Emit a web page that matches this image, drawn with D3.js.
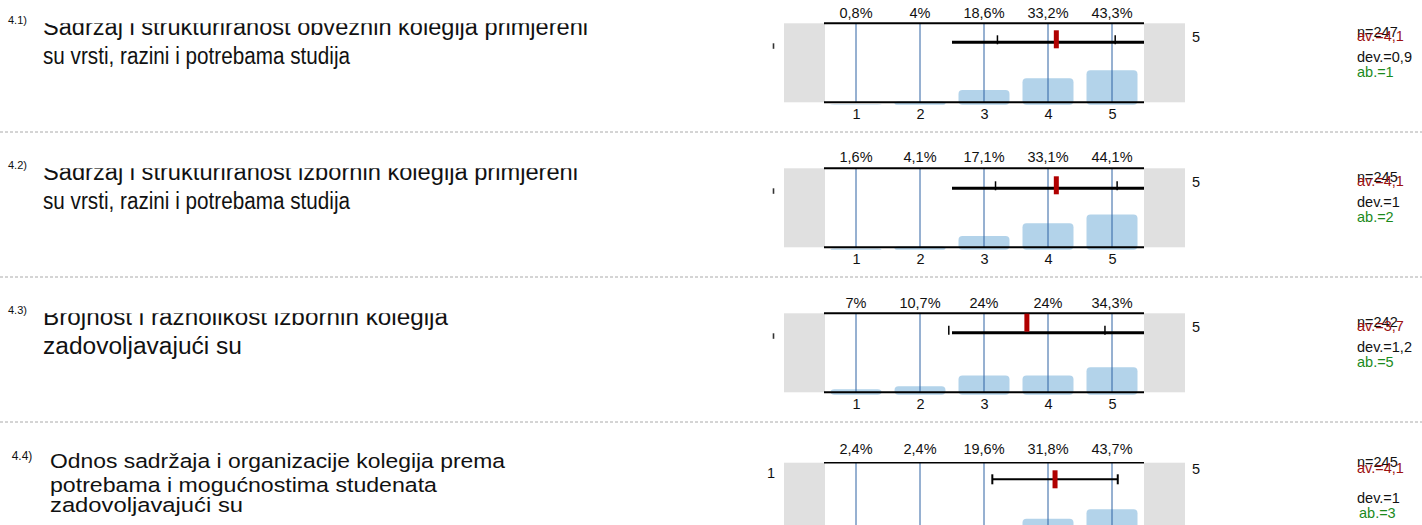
<!DOCTYPE html>
<html>
<head>
<meta charset="utf-8">
<script src="https://cdn.jsdelivr.net/npm/d3@7"></script>
<style>
body { margin: 0; background: #fff; }
svg { display: block; font-family: "Liberation Sans", Arial, sans-serif; }
</style>
</head>
<body>
<svg id="chart" width="1422" height="525"></svg>
<script>
// answer categories (scale 1-5)
var categories = [1, 2, 3, 4, 5];

var questionNums = ["4.1)", "4.2)", "4.3)", "4.4)"];
var questionLines = [
  ["Sadržaj i strukturiranost obveznih kolegija primjereni", "su vrsti, razini i potrebama studija"],
  ["Sadržaj i strukturiranost izbornih kolegija primjereni", "su vrsti, razini i potrebama studija"],
  ["Brojnost i raznolikost izbornih kolegija", "zadovoljavajući su"],
  ["Odnos sadržaja i organizacije kolegija prema", "potrebama i mogućnostima studenata", "zadovoljavajući su"]
];

// percent of answers per category
var pct41 = [0.8, 4, 18.6, 33.2, 43.3];
var pct42 = [1.6, 4.1, 17.1, 33.1, 44.1];
var pct43 = [7, 10.7, 24, 24, 34.3];
var pct44 = [2.4, 2.4, 19.6, 31.8, 43.7];
var pctLabels = [
  ["0,8%", "4%", "18,6%", "33,2%", "43,3%"],
  ["1,6%", "4,1%", "17,1%", "33,1%", "44,1%"],
  ["7%", "10,7%", "24%", "24%", "34,3%"],
  ["2,4%", "2,4%", "19,6%", "31,8%", "43,7%"]
];

// summary stats
var nVals = [247, 245, 242, 245];
var means = [4.13, 4.13, 3.67, 4.11];
var devs = [0.92, 0.95, 1.22, 0.98];
var avLabels = ["4,1", "4,1", "3,7", "4,1"];
var devLabels = ["0,9", "1", "1,2", "1"];
var abVals = [1, 2, 5, 3];
var leftPole = ["", "", "", "1"];
var rightPole = ["5", "5", "5", "5"];
// range of the long bar line (blocks 1-3), null = plain whisker
var bandRange = [[2.5, 5.5], [2.5, 5.5], [2.5, 5.5], null];

var pcts = [pct41, pct42, pct43, pct44];

// layout
var tops = [23.3, 168.3, 313.3, 462.7];
var plotH = 79;
var pctGap = [5, 6.5, 5, 8.4];
var lineOff = [19, 20, 19.4, 16.6];
var markShift = [-3, -3, -10, 0];
var separators = [132, 277, 422];
var fs = 14.5;

var svg = d3.select("#chart");
svg.append("rect").attr("width", 1422).attr("height", 525).attr("fill", "#fff");

var x = d3.scaleLinear().domain([0.5, 5.5]).range([824, 1144]);

// dashed separators
svg.selectAll(".sep")
  .data(separators)
  .enter()
  .append("line")
  .attr("x1", 0).attr("x2", 1422)
  .attr("y1", function (d) { return d }).attr("y2", function (d) { return d })
  .attr("stroke", "#aaa")
  .attr("stroke-dasharray", "3,2")

pcts.forEach(function (pct, b) {
  var top = tops[b];
  var bottom = top + plotH;
  var g = svg.append("g");
  var y = d3.scaleLinear().domain([0, 100]).range([bottom + 2.5, bottom - 77.5]);

  // question text
  var last = b == 3;
  g.append("text")
    .attr("x", last ? 11.7 : 8)
    .attr("y", last ? 460 : top + 0.5)
    .attr("font-size", last ? 12 : 11)
    .attr("fill", "#111")
    .text(questionNums[b]);

  var clipId = "clip" + b;
  svg.append("clipPath").attr("id", clipId)
    .append("rect").attr("x", 0).attr("y", last ? 0 : top).attr("width", 760).attr("height", 525);

  var tg = g.append("g").attr("clip-path", "url(#" + clipId + ")");
  var lineY = last ? [468.3, 491.5, 512] : [top + 12, top + 40.5];
  var txX = last ? 50 : 43;
  var txW = [[545, 307], [535, 307], [405, 199], [455, 387, 193]];
  tg.selectAll("text")
    .data(questionLines[b])
    .enter()
    .append("text")
    .attr("x", txX)
    .attr("y", function (d, i) { return lineY[i] })
    .attr("font-size", last ? 20.5 : 23.5)
    .attr("fill", "#111")
    .attr("textLength", function (d, i) { return txW[b][i] })
    .attr("lengthAdjust", "spacingAndGlyphs")
    .text(function (d) { return d });

  // grey pole boxes
  g.append("rect").attr("x", 784).attr("y", top).attr("width", 41).attr("height", plotH).attr("fill", "#e0e0e0");
  g.append("rect").attr("x", 1144).attr("y", top).attr("width", 41).attr("height", plotH).attr("fill", "#e0e0e0");

  // bars
  g.selectAll(".bar")
    .data(categories)
    .enter()
    .append("rect")
    .attr("x", function (d) { return x(d) - 25.5 })
    .attr("y", function (d, i) { return y(pct[i]) })
    .attr("width", 51)
    .attr("height", function (d, i) { return y(0) - y(pct[i]) })
    .attr("rx", 4).attr("ry", 4)
    .attr("fill", "#b3d3ea");

  // grid lines
  g.selectAll(".grid")
    .data(categories)
    .enter()
    .append("line")
    .attr("x1", function (d) { return x(d) }).attr("x2", function (d) { return x(d) })
    .attr("y1", top).attr("y2", bottom)
    .attr("stroke", "#2f62a3").attr("stroke-width", 1);

  // frame lines
  g.append("line").attr("x1", x(0.5)).attr("x2", x(5.5)).attr("y1", top).attr("y2", top)
    .attr("stroke", "#000").attr("stroke-width", last ? 1.5 : 2);
  g.append("line").attr("x1", x(0.5)).attr("x2", x(5.5)).attr("y1", bottom).attr("y2", bottom)
    .attr("stroke", "#000").attr("stroke-width", 2);

  // percent labels
  g.selectAll(".pct")
    .data(categories)
    .enter()
    .append("text")
    .attr("x", function (d) { return x(d) })
    .attr("y", top - pctGap[b])
    .attr("text-anchor", "middle")
    .attr("font-size", fs)
    .attr("fill", "#111")
    .text(function (d, i) { return pctLabels[b][i] });

  // category axis
  var axis = d3.axisBottom(x).tickValues(categories).tickFormat(d3.format("d")).tickSize(0).tickPadding(6);
  var ag = g.append("g").attr("transform", "translate(0," + bottom + ")").call(axis);
  ag.select(".domain").remove();
  ag.selectAll("text").attr("font-size", fs).attr("fill", "#111").attr("font-family", "Liberation Sans, Arial, sans-serif");

  // mean / deviation
  var ly = top + lineOff[b];
  var lo = means[b] - devs[b], hi = means[b] + devs[b];
  if (bandRange[b]) {
    g.append("line").attr("x1", x(bandRange[b][0])).attr("x2", x(bandRange[b][1]))
      .attr("y1", ly).attr("y2", ly).attr("stroke", "#000").attr("stroke-width", 3);
    g.selectAll(".dtick")
      .data([lo, hi])
      .enter()
      .append("line")
      .attr("x1", function (d) { return x(d) }).attr("x2", function (d) { return x(d) })
      .attr("y1", ly - 7).attr("y2", ly + 2)
      .attr("stroke", "#000").attr("stroke-width", 1.5);
  } else {
    g.append("line").attr("x1", x(lo)).attr("x2", x(hi))
      .attr("y1", ly).attr("y2", ly).attr("stroke", "#000").attr("stroke-width", 2);
    g.selectAll(".dtick")
      .data([lo, hi])
      .enter()
      .append("line")
      .attr("x1", function (d) { return x(d) }).attr("x2", function (d) { return x(d) })
      .attr("y1", ly - 5).attr("y2", ly + 5)
      .attr("stroke", "#000").attr("stroke-width", 2);
  }
  g.append("rect")
    .attr("x", x(means[b]) - 2.5)
    .attr("y", ly + markShift[b] - 9)
    .attr("width", 5).attr("height", 18)
    .attr("fill", "#b00000");

  // pole labels
  if (leftPole[b]) {
    g.append("text").attr("x", 775).attr("y", top + 15).attr("text-anchor", "end")
      .attr("font-size", fs).attr("fill", "#111").text(leftPole[b]);
  } else {
    g.append("line").attr("x1", 773.5).attr("x2", 773.5).attr("y1", top + 20).attr("y2", top + 25.5)
      .attr("stroke", "#333").attr("stroke-width", 1.6);
  }
  g.append("text").attr("x", 1192).attr("y", last ? top + 11 : top + 18.4)
    .attr("font-size", fs).attr("fill", "#111").text(rightPole[b]);

  // stats
  var sx = 1357;
  var sy = last ? [4, 10.6, 40.6, 55.6] : [14, 18, 39, 54];
  g.append("text").attr("x", sx).attr("y", top + sy[0]).attr("font-size", fs).attr("fill", "#111").text("n=" + nVals[b]);
  g.append("text").attr("x", sx).attr("y", top + sy[1]).attr("font-size", fs).attr("fill", "#9c1010").text("av.=" + avLabels[b]);
  g.append("text").attr("x", sx).attr("y", top + sy[2]).attr("font-size", fs).attr("fill", "#111").text("dev.=" + devLabels[b]);
  g.append("text").attr("x", last ? sx + 2 : sx).attr("y", top + sy[3]).attr("font-size", fs).attr("fill", "#1b8a1b").text("ab.=" + abVals[b]);
});
</script>
</body>
</html>
